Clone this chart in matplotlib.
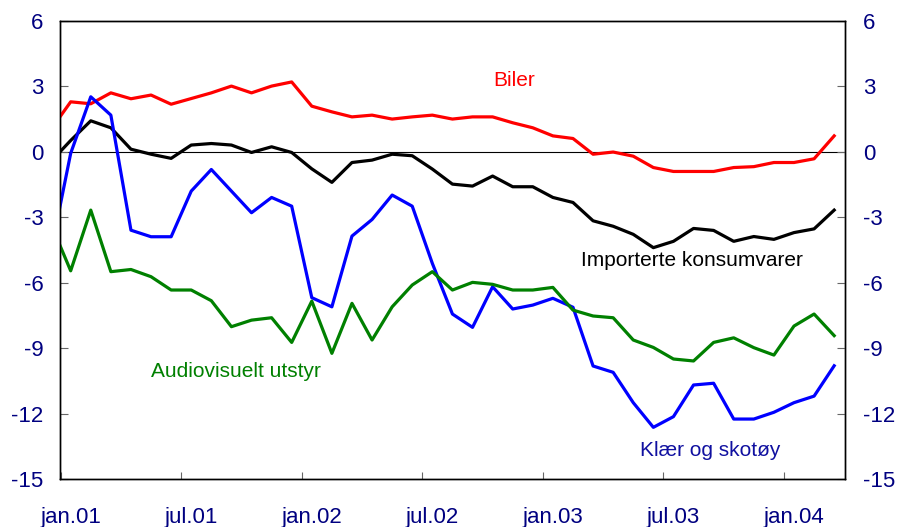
import numpy as np
import matplotlib
matplotlib.use("Agg")
import matplotlib.pyplot as plt

# monthly values, dec.00 .. mar.04 (first point is clipped by the axis)
biler = [1.0,
         2.29, 2.20, 2.70, 2.43, 2.60, 2.18, 2.44, 2.70, 3.01, 2.70, 3.01, 3.20,
         2.09, 1.83, 1.60, 1.68, 1.50, 1.60, 1.68, 1.50, 1.60, 1.60, 1.33, 1.10,
         0.73, 0.61, -0.11, -0.01, -0.20, -0.72, -0.90, -0.90, -0.90, -0.72, -0.68, -0.49,
         -0.49, -0.32, 0.73]
importerte = [-0.46,
              0.52, 1.42, 1.10, 0.12, -0.11, -0.30, 0.31, 0.38, 0.31, -0.03, 0.23, -0.03,
              -0.78, -1.40, -0.49, -0.38, -0.11, -0.18, -0.79, -1.48, -1.57, -1.11, -1.60, -1.60,
              -2.09, -2.32, -3.16, -3.41, -3.78, -4.39, -4.10, -3.51, -3.60, -4.10, -3.88, -4.01,
              -3.70, -3.53, -2.67]
klaer = [-4.64,
         -0.07, 2.52, 1.68, -3.59, -3.89, -3.89, -1.80, -0.81, -1.80, -2.79, -2.09, -2.49,
         -6.68, -7.10, -3.86, -3.10, -1.98, -2.49, -5.11, -7.43, -8.04, -6.18, -7.20, -7.02,
         -6.71, -7.12, -9.81, -10.10, -11.49, -12.62, -12.13, -10.68, -10.60, -12.24, -12.24, -11.93,
         -11.49, -11.19, -9.80]
audio = [-3.27,
         -5.45, -2.67, -5.49, -5.39, -5.72, -6.33, -6.33, -6.82, -8.01, -7.71, -7.60, -8.73,
         -6.84, -9.23, -6.94, -8.62, -7.10, -6.10, -5.49, -6.33, -5.98, -6.07, -6.33, -6.33,
         -6.21, -7.25, -7.52, -7.60, -8.62, -8.96, -9.49, -9.58, -8.73, -8.52, -8.97, -9.31,
         -7.98, -7.43, -8.42]

tick_labels = ["jan.01", "jul.01", "jan.02", "jul.02", "jan.03", "jul.03", "jan.04"]
y_ticks = [6, 3, 0, -3, -6, -9, -12, -15]

plt.rcParams['font.family'] = ['Liberation Sans', 'DejaVu Sans']

navy = '#000080'

# months counted from jan.01, points drawn mid-month
x = np.arange(len(biler)) - 1 + 0.5

fig = plt.figure(figsize=(9, 5.27), dpi=100)
ax = fig.add_axes([0.0667, 0.0905, 0.872, 0.870])

ax.axhline(0, color='black', lw=0.8, zorder=1)
ax.plot(x, biler, color='#ff0000', lw=2.3, zorder=3)
ax.plot(x, importerte, color='black', lw=2.3, zorder=3)
ax.plot(x, klaer, color='#0000ff', lw=2.3, zorder=3)
ax.plot(x, audio, color='#008000', lw=2.3, zorder=3)

ax.set_xlim(-0.03, 39.03)
ax.set_ylim(-15, 6)

# tick marks at the start of jan/jul, labels sit half a month to the right
ax.set_xticks(np.arange(len(tick_labels)) * 6)
ax.set_xticklabels([])
ax.set_xticks(np.arange(len(tick_labels)) * 6 + 0.5, minor=True)
ax.set_xticklabels(tick_labels, minor=True)
ax.tick_params(axis='x', which='major', direction='in', length=5, color='#666666')
ax.tick_params(axis='x', which='minor', length=0, pad=20, labelsize=16, labelcolor=navy)

ax.set_yticks(y_ticks)
ax.set_yticklabels([str(t) for t in y_ticks])
ax.tick_params(axis='y', direction='in', length=6, color='#666666', pad=12,
               labelsize=16, labelcolor=navy)

ax2 = ax.twinx()
ax2.set_ylim(-15, 6)
ax2.set_yticks(y_ticks)
ax2.set_yticklabels([str(t) for t in y_ticks])
ax2.tick_params(axis='y', direction='in', length=6, color='#666666', pad=13,
                labelsize=16, labelcolor=navy)

for a in (ax, ax2):
    for s in a.spines.values():
        s.set_linewidth(1.0)
        s.set_color('black')

ax.text(22.57, 3.28, "Biler", color='#ff0000', fontsize=15, ha='center', va='center')
ax.text(31.43, -5.0, "Importerte konsumvarer", color='black', fontsize=15, ha='center', va='center')
ax.text(8.72, -10.04, "Audiovisuelt utstyr", color='#008000', fontsize=15, ha='center', va='center')
ax.text(32.33, -13.66, "Klær og skotøy", color='#1010a0', fontsize=15, ha='center', va='center')

plt.savefig("out.png", dpi=100)
